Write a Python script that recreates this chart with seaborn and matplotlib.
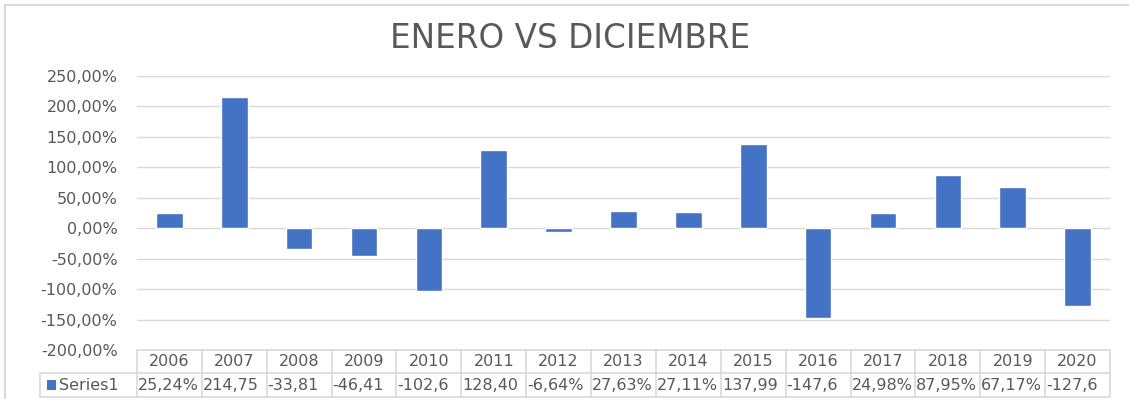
import matplotlib
matplotlib.use("Agg")
import matplotlib.pyplot as plt
import seaborn as sns
import pandas as pd
from matplotlib.patches import Rectangle
from matplotlib.transforms import blended_transform_factory

# Year-over-year change, January vs December (percent)
years = ["2006", "2007", "2008", "2009", "2010", "2011", "2012", "2013",
         "2014", "2015", "2016", "2017", "2018", "2019", "2020"]
values = [25.24, 214.75, -33.81, -46.41, -102.60, 128.40, -6.64, 27.63,
          27.11, 137.99, -147.60, 24.98, 87.95, 67.17, -127.60]
series_name = "Series1"
yticks = [-200, -150, -100, -50, 0, 50, 100, 150, 200, 250]

BAR = "#4472C4"
GRID = "#D9D9D9"
TXT = "#595959"
FONT = "DejaVu Sans"
FS = 11.5

sns.set_theme(style="white")
plt.rcParams["font.family"] = [FONT]

W, H = 1129, 399
fig = plt.figure(figsize=(W / 100, H / 100), dpi=100)

left, right, top, bottom = 137, 1110, 76, 350
ax = fig.add_axes([left / W, 1 - bottom / H, (right - left) / W, (bottom - top) / H])

df = pd.DataFrame({"year": years, "value": values})
sns.barplot(data=df, x="year", y="value", color=BAR, saturation=1,
            width=0.41, ax=ax)

ax.set_xlim(-0.5, len(years) - 0.5)
ax.set_ylim(yticks[0], yticks[-1])
ax.set_yticks(yticks)
ax.set_yticklabels([f"{v:.2f}%".replace(".", ",") for v in yticks],
                   color=TXT, fontsize=FS)
ax.tick_params(axis="y", length=0, pad=14)
ax.set_xticks([])
ax.set_xlabel("")
ax.set_ylabel("")
for s in ax.spines.values():
    s.set_visible(False)
ax.grid(axis="y", color=GRID, linewidth=1)
ax.set_axisbelow(True)

# Data table below the plot area
tr = blended_transform_factory(ax.transData, ax.transAxes)
ph = bottom - top
row1 = -23 / ph
row2 = -47 / ph
n = len(years)
lx = -2.0
kw = dict(color=GRID, linewidth=1.2, clip_on=False, transform=tr)
ax.plot([-0.5, n - 0.5], [0, 0], **kw)
ax.plot([lx, n - 0.5], [row1, row1], **kw)
ax.plot([lx, n - 0.5], [row2, row2], **kw)
ax.plot([lx, lx], [row1, row2], **kw)
for i in range(n + 1):
    ax.plot([i - 0.5, i - 0.5], [0, row2], **kw)

for i, (yr, v) in enumerate(zip(years, values)):
    ax.text(i, row1 / 2, yr, ha="center", va="center", color=TXT,
            fontsize=FS, transform=tr)
    label = f"{v:.2f}%".replace(".", ",")[:6]
    ax.text(i - 0.485, (row1 + row2) / 2, label, ha="left", va="center",
            color=TXT, fontsize=FS, transform=tr)

ax.add_patch(Rectangle((lx + 0.12, (row1 + row2) / 2 - 0.018), 0.13, 0.036,
                       facecolor=BAR, edgecolor="none", transform=tr,
                       clip_on=False))
ax.text(lx + 0.29, (row1 + row2) / 2, series_name, ha="left", va="center",
        color=TXT, fontsize=FS, transform=tr)

fig.text(570 / W, 1 - 38 / H, "ENERO VS DICIEMBRE", ha="center",
         va="center", color=TXT, fontsize=23.5)

# Chart frame
fig.patches.append(Rectangle((5 / W, -0.1), 1.2, 1 - 5 / H + 0.1,
                             transform=fig.transFigure, fill=False,
                             edgecolor=GRID, linewidth=1.5))

fig.savefig("out.png", dpi=100)
